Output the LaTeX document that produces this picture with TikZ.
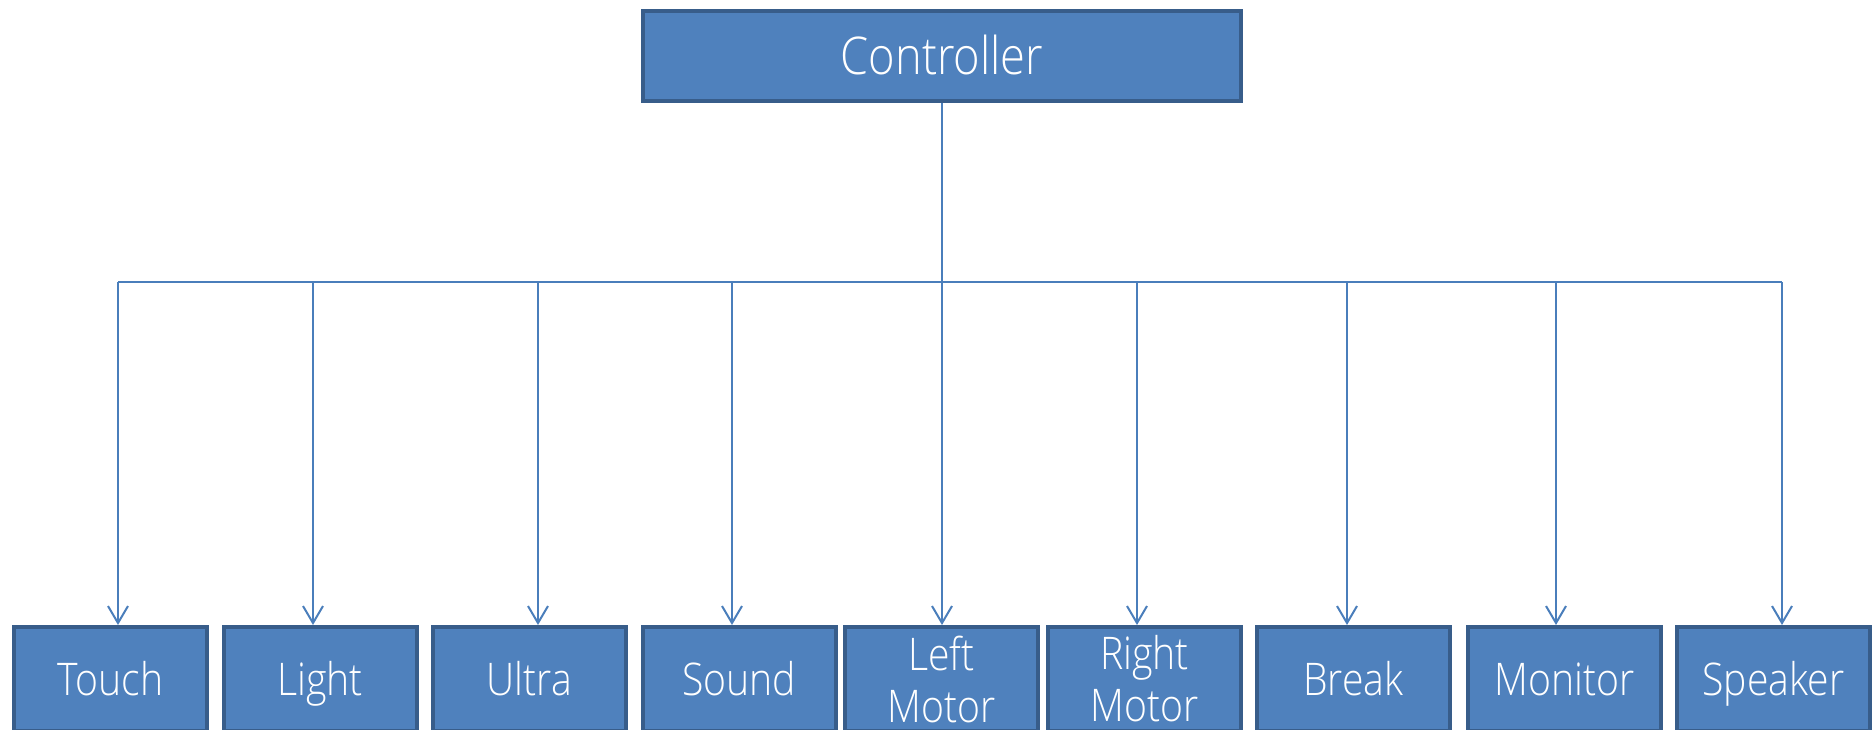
\documentclass[tikz,border=0pt]{standalone}
\usepackage{fontspec}
\newfontfamily\lblfont[FakeStretch=0.87]{Open Sans Light}
\usetikzlibrary{arrows.meta}
\definecolor{boxfill}{HTML}{4F81BD}
\definecolor{boxline}{HTML}{385D8A}
\definecolor{connblue}{HTML}{4A7EBB}
\tikzset{
  topbox/.style={draw=boxline, fill=boxfill, line width=4pt, minimum width=598pt, minimum height=90pt,
    inner sep=0pt, text=white, font=\lblfont\fontsize{52}{60}\selectfont, text height=41pt, text depth=4pt},
  leaf/.style={draw=boxline, fill=boxfill, line width=4pt, minimum width=193pt, minimum height=104pt,
    inner sep=0pt, text=white, font=\lblfont\fontsize{45}{52}\selectfont, align=center},
  oneline/.style={text height=36pt, text depth=4pt},
  connline/.style={draw=connblue, line width=2pt},
  arr/.style={connline, -{Straight Barb[length=17pt,width=20pt,line width=2pt]}}
}
\begin{document}
\begin{tikzpicture}[x=1pt,y=-1pt]
\useasboundingbox (0,0) rectangle (1873,730);
\clip (0,0) rectangle (1873,730);
\node[topbox] (ctrl) at (942,56) {Controller};
\node[leaf,oneline] (touch) at (110.5,679) {Touch};
\node[leaf,oneline] (light) at (320,679) {Light};
\node[leaf,oneline] (ultra) at (529.5,679) {Ultra};
\node[leaf,oneline] (sound) at (739,679) {Sound};
\node[leaf] (lmotor) at (941.5,679) {Left\\Motor};
\node[leaf] (rmotor) at (1144.5,679) {Right\\Motor};
\node[leaf,oneline] (break) at (1353.5,679) {Break};
\node[leaf,oneline] (monitor) at (1564.5,679) {Monitor};
\node[leaf,oneline] (speaker) at (1773.5,679) {Speaker};
\coordinate (a1) at (118,282);
\coordinate (a2) at (313,282);
\coordinate (a3) at (538,282);
\coordinate (a4) at (732,282);
\coordinate (a5) at (942,282);
\coordinate (a6) at (1137,282);
\coordinate (a7) at (1347,282);
\coordinate (a8) at (1556,282);
\coordinate (a9) at (1782,282);
\draw[connline] (ctrl.south) -- (a5);
\draw[connline] (a1) -- (a9);
\draw[arr] (a1) -- (a1 |- touch.north);
\draw[arr] (a2) -- (a2 |- light.north);
\draw[arr] (a3) -- (a3 |- ultra.north);
\draw[arr] (a4) -- (a4 |- sound.north);
\draw[arr] (a5) -- (a5 |- lmotor.north);
\draw[arr] (a6) -- (a6 |- rmotor.north);
\draw[arr] (a7) -- (a7 |- break.north);
\draw[arr] (a8) -- (a8 |- monitor.north);
\draw[arr] (a9) -- (a9 |- speaker.north);
\end{tikzpicture}
\end{document}
